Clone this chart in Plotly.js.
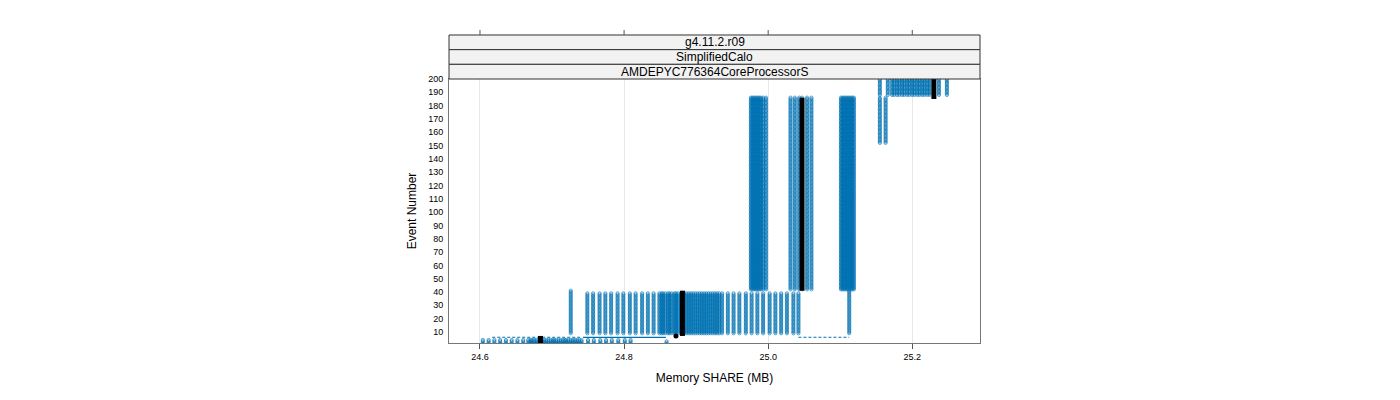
<!DOCTYPE html>
<html>
<head>
<meta charset="utf-8">
<script src="https://cdn.plot.ly/plotly-3.0.1.min.js"></script>
<style>
body{margin:0;background:#fff;}
#div_plot{width:1400px;height:400px;}
</style>
</head>
<body>
<div id="div_plot"></div>
<script>
// axes
var memTicks = [24.6, 24.8, 25.0, 25.2];
var memTickText = ['24.6', '24.8', '25.0', '25.2'];
var eventTicks = [10, 20, 30, 40, 50, 60, 70, 80, 90, 100, 110, 120, 130, 140, 150, 160, 170, 180, 190, 200];
var stripLabels = ['g4.11.2.r09', 'SimplifiedCalo', 'AMDEPYC776364CoreProcessorS'];

// event range of each stage (first / last event)
var stageFirst = [1, 9, 42, 188];
var stageLast = [4, 39, 186, 200];

// memory share (MB) of every run during each stage
var stage1Mem = [24.604, 24.612, 24.620, 24.628, 24.636, 24.644, 24.652, 24.660,
   24.667, 24.670, 24.672, 24.675, 24.678, 24.681, 24.684, 24.686, 24.689, 24.692, 24.695,
   24.698, 24.701, 24.703, 24.706, 24.709, 24.712, 24.715, 24.718, 24.720, 24.723, 24.726,
   24.729, 24.732, 24.735, 24.738, 24.741,
   24.750, 24.758, 24.767, 24.775, 24.783, 24.792, 24.801, 24.809];
var stage2Mem = [24.749, 24.757, 24.766, 24.774, 24.782, 24.791, 24.799, 24.808, 24.816, 24.825, 24.833, 24.841, 24.849,
   24.852, 24.854, 24.857, 24.861, 24.863, 24.866, 24.870, 24.872, 24.875, 24.879, 24.881, 24.884, 24.887, 24.890,
   24.893, 24.896, 24.899, 24.902, 24.905, 24.908, 24.911, 24.914, 24.917, 24.920, 24.923, 24.926, 24.929, 24.932,
   24.936, 24.944, 24.952, 24.960, 24.969, 24.977, 24.985, 24.993, 25.002, 25.010, 25.018, 25.026, 25.035, 25.042];
var stage3Mem = [24.976, 24.978, 24.980, 24.982, 24.984, 24.986, 24.988, 24.990, 24.993, 24.997,
   25.031, 25.037, 25.043, 25.047, 25.054, 25.060,
   25.101, 25.103, 25.105, 25.107, 25.109, 25.111, 25.113, 25.115, 25.117, 25.119];
var stage4Mem = [25.155, 25.166, 25.172, 25.175, 25.179, 25.182, 25.186, 25.189, 25.193, 25.196,
   25.200, 25.203, 25.207, 25.210, 25.214, 25.217, 25.221, 25.224, 25.237, 25.248];

// runs that sit outside their stage's event range
var strayMem = [24.859, 24.726, 25.1125, 25.155, 25.163];
var strayFirst = [1, 9, 9, 152, 152];
var strayLast = [3, 41, 41, 186, 186];

// jumps between stages (event, from MB, to MB)
var dashedLinkEvent = [6, 6];
var dashedLinkFrom = [24.617, 25.042];
var dashedLinkTo = [24.739, 25.1125];
var solidLinkEvent = [6];
var solidLinkFrom = [24.743];
var solidLinkTo = [24.858];

// highlighted run
var blackMem = [24.684, 24.881, 25.047, 25.230];
var blackFirst = [1, 7, 41, 185];
var blackLast = [7, 41, 186, 200];
var blackStartMem = [24.872];
var blackStartEvent = [7];

var blue = '#0072B2';

function add_columns(mems, firsts, lasts, xs, ys){
   mems.forEach((m, i) => {
      for(var e = firsts[i] ; e <= lasts[i] ; e++){
         xs.push(m);
         ys.push(e);
      }
      xs.push(null);
      ys.push(null);
   });
}

function same(v, n){
   var arr = [];
   for(var i = 0 ; i < n ; i++){ arr.push(v); }
   return arr;
}

function segments(x0, x1, y0, y1){
   var xs = [], ys = [];
   x0.forEach((v, i) => {
      xs.push(v, x1[i], null);
      ys.push(y0[i], y1[i], null);
   });
   return {x: xs, y: ys};
}

var col_x = [], col_y = [];
var stages = [stage1Mem, stage2Mem, stage3Mem, stage4Mem];
stages.forEach((mems, s) => {
   add_columns(mems, same(stageFirst[s], mems.length), same(stageLast[s], mems.length), col_x, col_y);
});
add_columns(strayMem, strayFirst, strayLast, col_x, col_y);

var trace_runs = {
   x: col_x,
   y: col_y,
   mode: 'lines+markers',
   type: 'scatter',
   line: {color: blue, width: 0.6, dash: '2px,2px'},
   marker: {symbol: 'circle-open', size: 3.2, color: blue, opacity: 0.8, line: {width: 0.8, color: blue}},
   hoverinfo: 'skip'
};

var dl = segments(dashedLinkFrom, dashedLinkTo, dashedLinkEvent, dashedLinkEvent);
var trace_dashed = {
   x: dl.x, y: dl.y, mode: 'lines', type: 'scatter',
   line: {color: blue, width: 1, dash: '3px,2px'}, hoverinfo: 'skip'
};

var sl = segments(solidLinkFrom, solidLinkTo, solidLinkEvent, solidLinkEvent);
var trace_solid = {
   x: sl.x, y: sl.y, mode: 'lines', type: 'scatter',
   line: {color: blue, width: 1.2}, hoverinfo: 'skip'
};

var bl = segments(blackMem, blackMem, blackFirst, blackLast);
var trace_black = {
   x: bl.x, y: bl.y, mode: 'lines', type: 'scatter',
   line: {color: '#000', width: 5}, hoverinfo: 'skip'
};

var trace_black_dot = {
   x: blackStartMem, y: blackStartEvent, mode: 'markers', type: 'scatter',
   marker: {color: '#000', size: 5}, hoverinfo: 'skip'
};

// strips stacked above the panel (paper coords, panel height 264px)
var shapes = [];
var annotations = [];
var stripPx = 14.67;
stripLabels.forEach((lab, i) => {
   var k = stripLabels.length - 1 - i;
   var y0 = 1 + k * stripPx / 264;
   var y1 = 1 + (k + 1) * stripPx / 264;
   shapes.push({type: 'rect', xref: 'paper', yref: 'paper', x0: 0, x1: 1, y0: y0, y1: y1,
      fillcolor: '#f2f2f2', line: {color: '#333', width: 1}, layer: 'above'});
   annotations.push({xref: 'paper', yref: 'paper', x: 0.5, y: (y0 + y1) / 2, text: lab,
      showarrow: false, font: {size: 12, color: '#000'}, xanchor: 'center', yanchor: 'middle'});
});
memTicks.forEach(t => {
   shapes.push({type: 'line', xref: 'x', yref: 'paper', x0: t, x1: t,
      y0: 1 + 3 * stripPx / 264, y1: 1 + (3 * stripPx + 5) / 264,
      line: {color: '#555', width: 1}});
});

var layout = {
   width: 1400,
   height: 400,
   showlegend: false,
   paper_bgcolor: '#fff',
   plot_bgcolor: '#fff',
   font: {family: 'Liberation Sans, Arial, sans-serif', color: '#000'},
   margin: {l: 449, r: 420, t: 79, b: 57, pad: 0},
   xaxis: {
      range: [24.557, 25.294],
      tickvals: memTicks,
      ticktext: memTickText,
      ticks: 'outside',
      ticklen: 5,
      tickcolor: '#555',
      showline: true,
      mirror: true,
      linecolor: '#777',
      showgrid: true,
      gridcolor: '#e8e8e8',
      zeroline: false,
      tickfont: {size: 9},
      title: {text: 'Memory SHARE (MB)', font: {size: 12}, standoff: 12}
   },
   yaxis: {
      range: [1.7, 200],
      tickvals: eventTicks,
      ticks: '',
      showline: true,
      mirror: true,
      linecolor: '#777',
      showgrid: false,
      zeroline: false,
      tickfont: {size: 9},
      ticklabelstandoff: 3,
      title: {text: 'Event Number', font: {size: 12}, standoff: 8}
   },
   shapes: shapes,
   annotations: annotations
};

var config = {
   responsive: false,
   displayModeBar: false,
   staticPlot: true
};

Plotly.newPlot('div_plot', [trace_runs, trace_dashed, trace_solid, trace_black, trace_black_dot], layout, config);
</script>
</body>
</html>
